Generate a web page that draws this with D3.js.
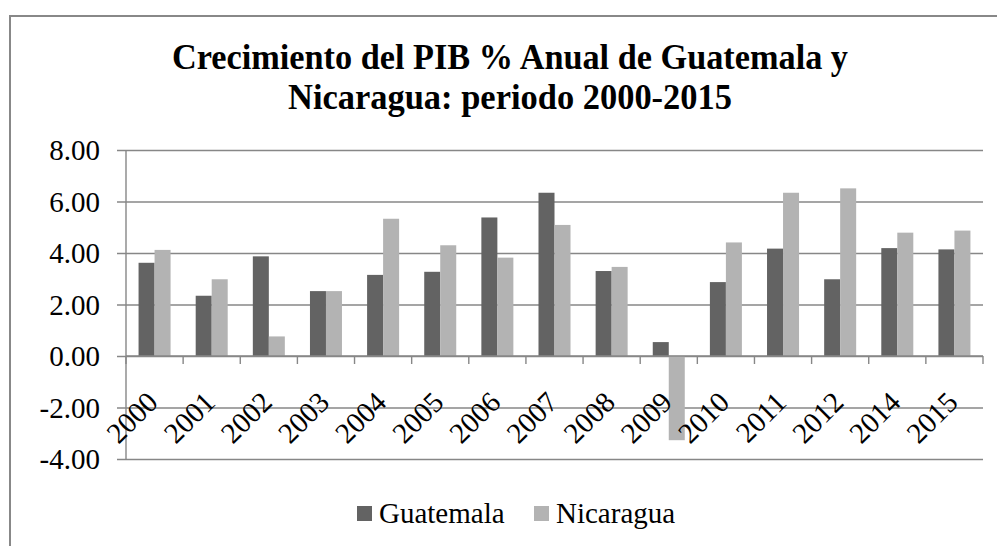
<!DOCTYPE html>
<html>
<head>
<meta charset="utf-8">
<script src="https://cdn.jsdelivr.net/npm/d3@7"></script>
<style>
    body { margin: 0; background: white; }
    text { font-family: 'Liberation Serif', 'Times New Roman', serif; }
</style>
</head>
<body>
<div id="chart"></div>
<script>
let years = ['2000', '2001', '2002', '2003', '2004', '2005', '2006', '2007', '2008', '2009', '2010', '2011', '2012', '2014', '2015']
let guatemala = [3.62, 2.34, 3.87, 2.52, 3.15, 3.27, 5.38, 6.34, 3.30, 0.54, 2.87, 4.17, 2.98, 4.19, 4.14]
let nicaragua = [4.12, 2.98, 0.76, 2.52, 5.33, 4.30, 3.82, 5.09, 3.46, -3.27, 4.41, 6.34, 6.51, 4.79, 4.87]
let series = ['Guatemala', 'Nicaragua']
let yTicks = [-4, -2, 0, 2, 4, 6, 8]

d3.select(window).on('load', () => {
    let svg = d3.select('#chart').append('svg')
        .attr('width', '997')
        .attr('height', '546')

    // chart frame
    svg.append('rect')
        .attr('x', 10)
        .attr('y', 16)
        .attr('width', 1000)
        .attr('height', 560)
        .attr('fill', 'white')
        .style('stroke', '#888888')
        .style('stroke-width', 2)

    let x = d3.scaleBand().domain(years).range([126, 983])
    let x1 = d3.scaleBand().domain(series).range([0, x.bandwidth()]).paddingOuter(0.785)
    let y = d3.scaleLinear().domain([-4, 8]).range([459, 150])

    // title
    let title = svg.append('g').attr('id', 'title')
    title.append('text')
        .attr('transform', 'translate (510, 69)')
        .text('Crecimiento del PIB % Anual de Guatemala y')
        .attr('textLength', 676)
        .attr('lengthAdjust', 'spacingAndGlyphs')
        .style('font-size', '36px')
        .style('font-weight', 'bold')
        .style('text-anchor', 'middle')
    title.append('text')
        .attr('transform', 'translate (510, 109)')
        .text('Nicaragua: periodo 2000-2015')
        .attr('textLength', 444)
        .attr('lengthAdjust', 'spacingAndGlyphs')
        .style('font-size', '36px')
        .style('font-weight', 'bold')
        .style('text-anchor', 'middle')

    // gridlines + y axis
    let yAxis = svg.append('g')
        .attr('transform', 'translate (126, 0)')
        .call(d3.axisLeft(y).tickValues(yTicks).tickSize(-(983 - 126)).tickSizeOuter(0)
            .tickFormat(d => d3.format('.2f')(d).replace('\u2212', '-')).tickPadding(26))
    yAxis.select('.domain').remove()
    yAxis.selectAll('line')
        .attr('x1', 983 - 126)
        .attr('x2', -9)
        .style('stroke', '#878787')
        .style('stroke-width', 1.4)
    yAxis.selectAll('text')
        .style('font-size', '29px')
        .style('font-family', "'Liberation Serif', serif")
        .attr('fill', 'black')
        .attr('dy', '0.33em')

    svg.append('line')
        .attr('x1', 126).attr('x2', 126)
        .attr('y1', y(8)).attr('y2', y(-4))
        .style('stroke', '#878787')
        .style('stroke-width', 1.4)

    // bars
    let groups = svg.append('g').attr('id', 'bars')
        .selectAll('g')
        .data(years)
        .join('g')
        .attr('transform', d => 'translate (' + x(d) + ', 0)')

    groups.selectAll('rect')
        .data((d, i) => [{ s: 'Guatemala', v: guatemala[i] }, { s: 'Nicaragua', v: nicaragua[i] }])
        .join('rect')
        .attr('x', d => x1(d.s))
        .attr('width', x1.bandwidth())
        .attr('y', d => y(Math.max(0, d.v)))
        .attr('height', d => Math.abs(y(d.v) - y(0)))
        .attr('fill', d => d.s == 'Guatemala' ? '#636363' : '#b3b3b3')

    // x axis at zero
    let boundaries = years.map(d => x(d)).concat([983])
    svg.append('line')
        .attr('x1', 126).attr('x2', 983)
        .attr('y1', y(0)).attr('y2', y(0))
        .style('stroke', '#878787')
        .style('stroke-width', 1.4)
    svg.append('g').selectAll('line')
        .data(boundaries)
        .join('line')
        .attr('x1', d => d).attr('x2', d => d)
        .attr('y1', y(0)).attr('y2', y(0) + 8)
        .style('stroke', '#878787')
        .style('stroke-width', 1.4)

    svg.append('g').selectAll('text')
        .data(years)
        .join('text')
        .attr('transform', d => 'translate (' + (x(d) + x.bandwidth() / 2 + 5) + ', 404) rotate(-45)')
        .text(d => d)
        .style('font-size', '29px')
        .style('text-anchor', 'end')

    // legend
    let legend = svg.append('g').attr('id', 'legend')
    let legendX = [357, 534]
    series.forEach((s, i) => {
        legend.append('rect')
            .attr('x', legendX[i])
            .attr('y', 506)
            .attr('width', 15)
            .attr('height', 15)
            .attr('fill', i == 0 ? '#636363' : '#b3b3b3')
        legend.append('text')
            .attr('transform', 'translate (' + (legendX[i] + 22) + ', 523)')
            .text(s)
            .style('font-size', '29px')
    })
})
</script>
</body>
</html>
